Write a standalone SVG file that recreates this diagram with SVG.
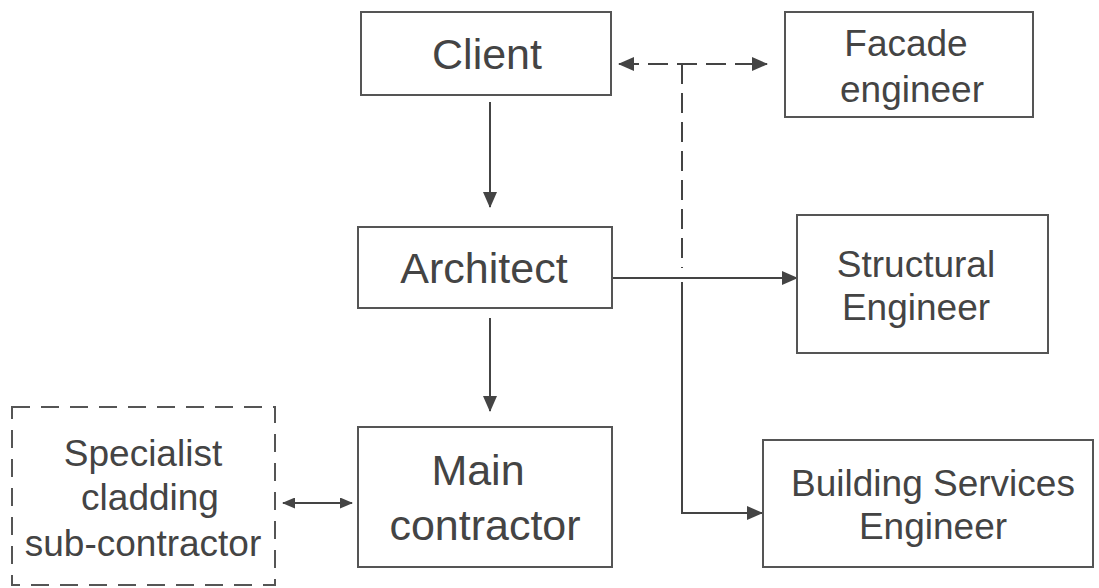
<svg xmlns="http://www.w3.org/2000/svg" width="1099" height="588" viewBox="0 0 1099 588">
  <style>
    .box { fill: #ffffff; stroke: #555555; stroke-width: 2; }
    .dbox { fill: #ffffff; stroke: #555555; stroke-width: 2; stroke-dasharray: 18 11; }
    .lbl { font-family: "Liberation Sans", Arial, sans-serif; fill: #444444; text-anchor: middle; }
    .big { font-size: 43px; }
    .small { font-size: 37px; }
    .wire { fill: none; stroke: #444444; stroke-width: 2; }
    .dash { stroke-dasharray: 20 9; }
  </style>
  <defs>
    <marker id="arrow" markerUnits="userSpaceOnUse" markerWidth="16" markerHeight="14" refX="15" refY="7" orient="auto-start-reverse" viewBox="0 0 16 14">
      <path d="M0,0 L16,7 L0,14 Z" fill="#444444"/>
    </marker>
    <marker id="arrowSm" markerUnits="userSpaceOnUse" markerWidth="13" markerHeight="11" refX="12" refY="5.5" orient="auto-start-reverse" viewBox="0 0 13 11">
      <path d="M0,0 L13,5.5 L0,11 Z" fill="#444444"/>
    </marker>
  </defs>

  <g id="connectors">
    <!-- Client to Architect -->
    <line class="wire" x1="490" y1="102" x2="490" y2="207" marker-end="url(#arrow)"/>
    <!-- Architect to Main contractor -->
    <line class="wire" x1="490" y1="318" x2="490" y2="411" marker-end="url(#arrow)"/>
    <!-- Client to Facade engineer (dashed, both ways) -->
    <line class="wire dash" x1="619" y1="64" x2="767" y2="64" marker-start="url(#arrow)" marker-end="url(#arrow)"/>
    <!-- Dashed drop from the Client/Facade link -->
    <line class="wire dash" x1="682" y1="64" x2="682" y2="268"/>
    <!-- Architect to Structural Engineer -->
    <line class="wire" x1="612" y1="278" x2="797" y2="278" marker-end="url(#arrow)"/>
    <!-- Branch down to Building Services Engineer -->
    <polyline class="wire" points="682,282 682,513 762,513" marker-end="url(#arrow)"/>
    <!-- Specialist sub-contractor to Main contractor -->
    <line class="wire" x1="283" y1="503" x2="352" y2="503" marker-start="url(#arrowSm)" marker-end="url(#arrowSm)"/>
  </g>

  <g id="client">
    <rect class="box" x="361" y="12" width="250" height="83"/>
    <text class="lbl big" x="487" y="69">Client</text>
  </g>

  <g id="architect">
    <rect class="box" x="358" y="227" width="254" height="81"/>
    <text class="lbl big" x="484" y="283">Architect</text>
  </g>

  <g id="main-contractor">
    <rect class="box" x="358" y="427" width="254" height="140"/>
    <text class="lbl big" x="478" y="485">Main</text>
    <text class="lbl big" x="485" y="540">contractor</text>
  </g>

  <g id="facade-engineer">
    <rect class="box" x="785" y="12" width="248" height="105"/>
    <text class="lbl small" x="906" y="56">Facade</text>
    <text class="lbl small" x="912" y="102">engineer</text>
  </g>

  <g id="structural-engineer">
    <rect class="box" x="797" y="215" width="251" height="138"/>
    <text class="lbl small" x="916" y="277">Structural</text>
    <text class="lbl small" x="916" y="320">Engineer</text>
  </g>

  <g id="building-services-engineer">
    <rect class="box" x="763" y="440" width="330" height="127"/>
    <text class="lbl small" x="933" y="496">Building Services</text>
    <text class="lbl small" x="933" y="539">Engineer</text>
  </g>

  <g id="specialist-sub-contractor">
    <rect class="dbox" x="12" y="407" width="263" height="178"/>
    <text class="lbl small" x="143" y="466">Specialist</text>
    <text class="lbl small" x="150" y="510">cladding</text>
    <text class="lbl small" x="143" y="556">sub-contractor</text>
  </g>
</svg>
